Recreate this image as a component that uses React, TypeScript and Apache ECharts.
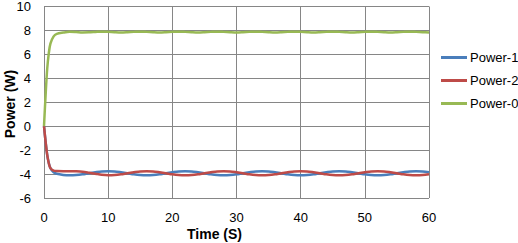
import React, { useEffect, useRef } from "react";
import * as echarts from "echarts";

const times = [0, 0.25, 0.5, 0.75, 1, 1.5, 2, 3, 4, 5, 6, 7, 8, 9, 10, 11, 12, 13, 14, 15, 16, 17, 18, 19, 20, 21, 22, 23, 24, 25, 26, 27, 28, 29, 30, 31, 32, 33, 34, 35, 36, 37, 38, 39, 40, 41, 42, 43, 44, 45, 46, 47, 48, 49, 50, 51, 52, 53, 54, 55, 56, 57, 58, 59, 60];

const power1 = [0, -1.3, -2.4, -3.1, -3.5, -3.85, -3.98, -4.07, -4.1, -4.08, -4.02, -3.93, -3.85, -3.78, -3.76, -3.78, -3.85, -3.93, -4.02, -4.08, -4.1, -4.08, -4.02, -3.93, -3.85, -3.78, -3.76, -3.78, -3.85, -3.93, -4.02, -4.08, -4.1, -4.08, -4.02, -3.93, -3.85, -3.78, -3.76, -3.78, -3.85, -3.93, -4.02, -4.08, -4.1, -4.08, -4.02, -3.93, -3.85, -3.78, -3.76, -3.78, -3.85, -3.93, -4.02, -4.08, -4.1, -4.08, -4.02, -3.93, -3.85, -3.78, -3.76, -3.78, -3.85];

const power2 = [0, -1.3, -2.4, -3.1, -3.5, -3.72, -3.75, -3.76, -3.76, -3.77, -3.8, -3.88, -3.97, -4.06, -4.1, -4.08, -4.02, -3.93, -3.85, -3.78, -3.76, -3.78, -3.85, -3.93, -4.02, -4.08, -4.1, -4.08, -4.02, -3.93, -3.85, -3.78, -3.76, -3.78, -3.85, -3.93, -4.02, -4.08, -4.1, -4.08, -4.02, -3.93, -3.85, -3.78, -3.76, -3.78, -3.85, -3.93, -4.02, -4.08, -4.1, -4.08, -4.02, -3.93, -3.85, -3.78, -3.76, -3.78, -3.85, -3.93, -4.02, -4.08, -4.1, -4.08, -4.02];

const power0 = [0, 2.6, 4.8, 6.1, 6.9, 7.5, 7.72, 7.82, 7.88, 7.86, 7.83, 7.84, 7.87, 7.9, 7.88, 7.85, 7.83, 7.85, 7.88, 7.9, 7.88, 7.85, 7.83, 7.85, 7.88, 7.9, 7.88, 7.85, 7.83, 7.85, 7.88, 7.9, 7.88, 7.85, 7.83, 7.85, 7.88, 7.9, 7.88, 7.85, 7.83, 7.85, 7.88, 7.9, 7.88, 7.85, 7.83, 7.85, 7.88, 7.9, 7.88, 7.85, 7.83, 7.85, 7.88, 7.9, 7.88, 7.85, 7.83, 7.85, 7.88, 7.9, 7.88, 7.85, 7.83];

const seriesNames = ["Power-1", "Power-2", "Power-0"];
const seriesColors = ["#4A7EBB", "#BE4B48", "#98B954"];
const xTitle = "Time (S)";
const yTitle = "Power (W)";

const FONT = "'Liberation Sans', Arial, sans-serif";

export default function App() {
  const ref = useRef<HTMLDivElement>(null);
  useEffect(() => {
    if (!ref.current) return;
    const chart = echarts.init(ref.current, undefined, { renderer: "svg" });
    const values = [power1, power2, power0];
    chart.setOption({
      animation: false,
      backgroundColor: "#ffffff",
      grid: { left: 44, right: 89, top: 6, bottom: 45, containLabel: false },
      xAxis: {
        type: "value",
        min: 0,
        max: 60,
        interval: 10,
        axisLine: { show: true, lineStyle: { color: "#868686", width: 1 } },
        axisTick: { show: false },
        splitLine: { show: true, lineStyle: { color: "#868686", width: 1 } },
        axisLabel: { color: "#000", fontSize: 13, fontFamily: FONT, margin: 13 },
      },
      yAxis: {
        type: "value",
        min: -6,
        max: 10,
        interval: 2,
        axisLine: { show: true, lineStyle: { color: "#868686", width: 1 } },
        axisTick: { show: false },
        splitLine: { show: true, lineStyle: { color: "#868686", width: 1 } },
        axisLabel: { color: "#000", fontSize: 13, fontFamily: FONT, margin: 13 },
      },
      legend: {
        orient: "vertical",
        left: 441,
        top: 51,
        padding: 0,
        itemWidth: 26,
        itemHeight: 3,
        itemGap: 10,
        icon: "rect",
        textStyle: { color: "#000", fontSize: 13, fontFamily: FONT, padding: [0, 0, 0, -2] },
        data: seriesNames,
      },
      graphic: [
        {
          type: "text",
          left: 187,
          top: 227,
          style: { text: xTitle, font: `bold 14px ${FONT}`, fill: "#000" },
        },
        {
          type: "text",
          x: 10,
          y: 104,
          rotation: Math.PI / 2,
          style: {
            text: yTitle,
            font: `bold 14px ${FONT}`,
            fill: "#000",
            align: "center",
            verticalAlign: "middle",
          },
        },
      ],
      series: seriesNames.map((name, i) => ({
        name,
        type: "line",
        data: times.map((t, j) => [t, values[i][j]]),
        showSymbol: false,
        symbol: "none",
        smooth: 0.3,
        lineStyle: { color: seriesColors[i], width: 2.5 },
        itemStyle: { color: seriesColors[i] },
      })),
    });
    return () => chart.dispose();
  }, []);
  return (
    <div
      ref={ref}
      style={{ position: "fixed", left: 0, top: 0, width: 518, height: 243 }}
    />
  );
}
